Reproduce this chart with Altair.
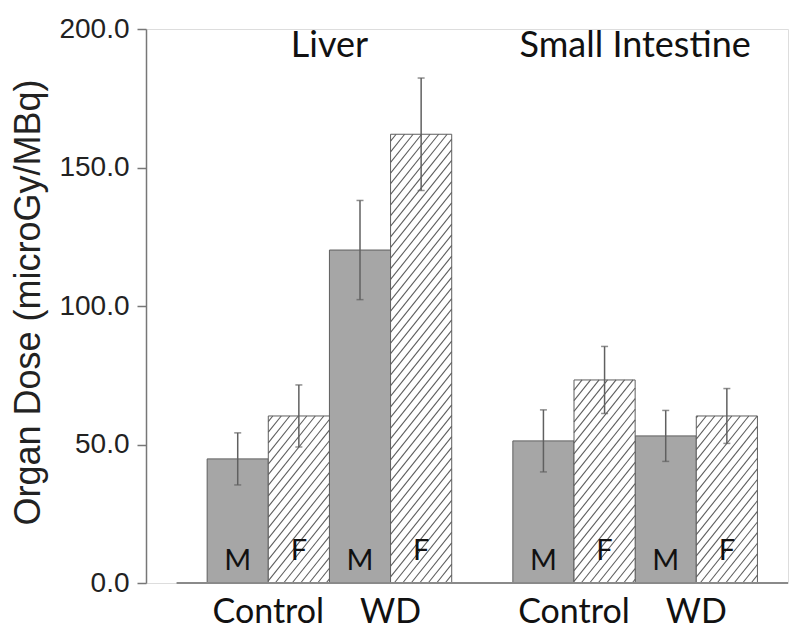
import altair as alt
import pandas as pd

# ---- data ----
organs = ["Liver", "Small Intestine"]
diets = ["Control", "WD"]
sexes = ["M", "F"]
# order: organ -> diet -> sex
dose_mean = [44.8, 60.3, 120.2, 162.0, 51.3, 73.3, 53.1, 60.3]
dose_err = [9.4, 11.2, 17.9, 20.3, 11.2, 12.1, 9.2, 9.9]
y_ticks = [0, 50, 100, 150, 200]

# ---- layout ----
W, H = 642, 554
XMIN, XMAX = -1.0, 9.5
YMIN, YMAX = 0, 200
px_x = W / (XMAX - XMIN)
px_y = H / (YMAX - YMIN)

rows = []
i = 0
for oi, organ in enumerate(organs):
    for di, diet in enumerate(diets):
        for si, sex in enumerate(sexes):
            slot = oi * 5 + di * 2 + si
            m, e = dose_mean[i], dose_err[i]
            rows.append(dict(organ=organ, diet=diet, sex=sex, x0=slot, x1=slot + 1,
                             xc=slot + 0.5, mean=m, lo=m - e, hi=m + e, zero=0))
            i += 1
df = pd.DataFrame(rows)

# hatch segments for the F bars (texture derived from bar extents)
slope_px = 1.25
k = slope_px * px_x / px_y
step = 8.5 / px_x
hatch = []
for r in rows:
    if r["sex"] != "F":
        continue
    x0, x1, h = r["x0"], r["x1"], r["mean"]
    n0 = int((x0 - h / k) / step) - 1
    n1 = int(x1 / step) + 1
    for n in range(n0, n1 + 1):
        c = n * step
        xs = max(x0, c)
        xe = min(x1, c + h / k)
        if xe - xs > 1e-6:
            hatch.append(dict(xa=xs, ya=k * (xs - c), xb=xe, yb=k * (xe - c)))
hdf = pd.DataFrame(hatch)

groups = pd.DataFrame([dict(organ=o, xc=oi * 5 + 2.0) for oi, o in enumerate(organs)])
diet_lab = pd.DataFrame([dict(diet=d, xc=oi * 5 + di * 2 + 1.0)
                         for oi, o in enumerate(organs) for di, d in enumerate(diets)])

xsc = alt.Scale(domain=[XMIN, XMAX], nice=False, zero=False)
ysc = alt.Scale(domain=[YMIN, YMAX], nice=False)
yaxis = alt.Axis(values=y_ticks, format=".1f", grid=False,
                 domainColor="#777777", domainWidth=1.5, tickColor="#777777",
                 tickWidth=1.5, tickSize=9, labelPadding=8,
                 labelFont="Liberation Sans", labelFontSize=28, labelColor="#222222",
                 title="Organ Dose (microGy/MBq)", titleFont="Liberation Sans",
                 titleFontSize=36, titleFontWeight="normal", titleColor="#222222",
                 titleAngle=270, titleBaseline="alphabetic", titleAlign="center",
                 titleX=-107, titleY=273)
X = lambda f: alt.X(f, type="quantitative", scale=xsc, axis=None)
Y = lambda f: alt.Y(f, type="quantitative", scale=ysc, axis=yaxis)

base = alt.Chart(df)

m_bars = base.transform_filter(alt.datum.sex == "M").mark_rect(
    fill="#a6a6a6", stroke="#5f5f5f", strokeWidth=1).encode(
    x=X("x0"), x2="x1", y=Y("mean"), y2="zero")

f_fill = base.transform_filter(alt.datum.sex == "F").mark_rect(
    fill="white", strokeWidth=0).encode(x=X("x0"), x2="x1", y=Y("mean"), y2="zero")

hatch_lines = alt.Chart(hdf).mark_rule(color="#5e5e5e", strokeWidth=1.1).encode(
    x=X("xa"), y=Y("ya"), x2="xb", y2="yb")

f_outline = base.transform_filter(alt.datum.sex == "F").mark_rect(
    fill=None, filled=False, stroke="#5f5f5f", strokeWidth=1).encode(
    x=X("x0"), x2="x1", y=Y("mean"), y2="zero")

baseline = alt.Chart(pd.DataFrame([dict(a=-0.5, b=9.5, z=0)])).mark_rule(
    color="#8a8a8a", strokeWidth=2).encode(x=X("a"), x2="b", y=Y("z"))

err = base.mark_rule(color="#606060", strokeWidth=1.5).encode(
    x=X("xc"), y=Y("lo"), y2="hi")
cap_hi = base.mark_tick(color="#606060", thickness=1.5, size=7, orient="horizontal").encode(
    x=X("xc"), y=Y("hi"))
cap_lo = base.mark_tick(color="#606060", thickness=1.5, size=7, orient="horizontal").encode(
    x=X("xc"), y=Y("lo"))

m_txt = base.transform_filter(alt.datum.sex == "M").mark_text(
    font="Lato", fontSize=29, color="#111111", baseline="alphabetic", dy=-13).encode(
    x=X("xc"), y=Y("zero"), text="sex")
f_txt = base.transform_filter(alt.datum.sex == "F").mark_text(
    font="Lato", fontSize=29, color="#111111", baseline="alphabetic", dy=-23).encode(
    x=X("xc"), y=Y("zero"), text="sex")

group_txt = alt.Chart(groups).mark_text(
    font="Lato", fontSize=36, color="#111111", baseline="alphabetic", dy=28).encode(
    x=X("xc"), y=alt.datum(200), text="organ")

diet_txt = alt.Chart(diet_lab).mark_text(
    font="Lato", fontSize=34, color="#111111", baseline="alphabetic", dy=40).encode(
    x=X("xc"), y=alt.datum(0), text="diet")

chart = alt.layer(m_bars, f_fill, hatch_lines, f_outline, baseline, err, cap_hi, cap_lo,
                  m_txt, f_txt, group_txt, diet_txt).properties(
    width=W, height=H,
    autosize=alt.AutoSizeParams(type="none"),
    padding={"left": 138, "top": 21, "right": 4, "bottom": 50},
).configure_view(strokeWidth=0, stroke="transparent").configure(background="white")

chart.save("out.html", embed_options={"renderer": "svg", "actions": False})
